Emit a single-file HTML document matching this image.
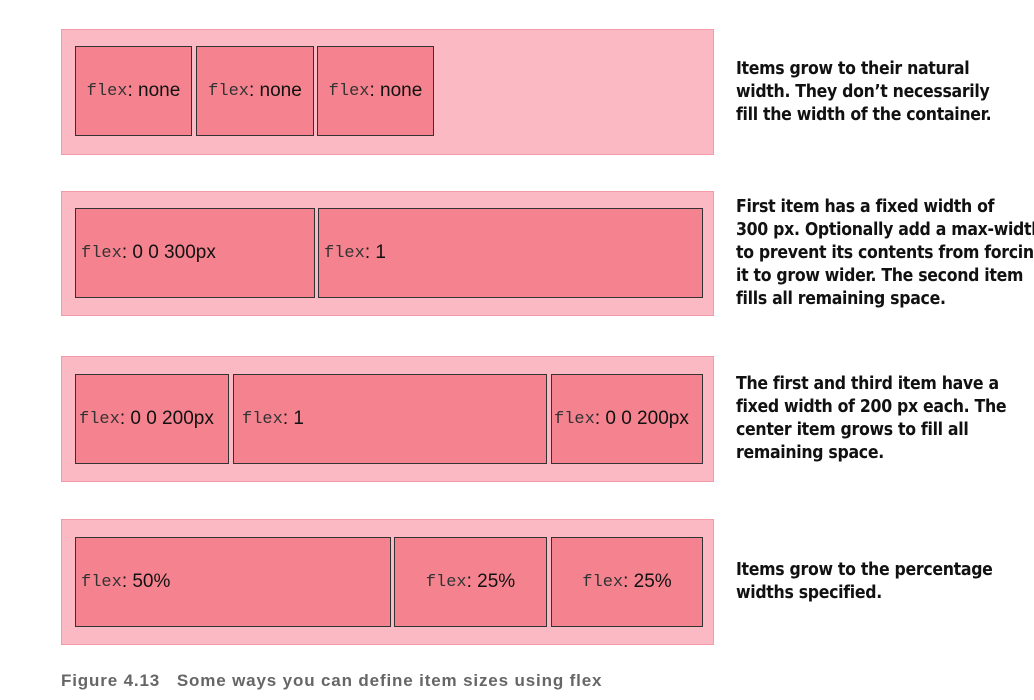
<!DOCTYPE html>
<html><head><style>
body{margin:0;width:1034px;height:700px;background:#fff;position:relative;overflow:hidden;font-family:"Liberation Sans",sans-serif}
.c{position:absolute;left:61px;width:653px;height:124px;background:#fbb9c3;border:1px solid #f29aa8;box-sizing:border-box}
.i{position:absolute;height:90px;background:#f5838f;border:1px solid #333;box-sizing:border-box;display:flex;align-items:center;white-space:nowrap;font-size:19px;color:#111;padding-left:5px}
.i.ctr{justify-content:center;padding-left:0}
.m{font-family:"Liberation Mono",monospace;font-size:17px;color:#333}
.t{position:absolute;left:736px;font-weight:bold;font-size:17.5px;line-height:23px;color:#111;white-space:nowrap;font-family:"DejaVu Sans Condensed","Liberation Sans Narrow","Liberation Sans",sans-serif;letter-spacing:-0.3px}
.cap{position:absolute;left:61px;top:671px;font-weight:bold;font-size:17px;color:#666;letter-spacing:0.85px}
</style></head><body>
<div class="c" style="top:29px;height:126px"></div>
<div class="i ctr" style="left:75px;top:46px;width:117px"><span class="m">flex</span>: none</div>
<div class="i ctr" style="left:196px;top:46px;width:118px"><span class="m">flex</span>: none</div>
<div class="i ctr" style="left:317px;top:46px;width:117px"><span class="m">flex</span>: none</div>
<div class="t" style="top:58px">Items grow to their natural<br>width. They don’t necessarily<br>fill the width of the container.</div>

<div class="c" style="top:191px;height:125px"></div>
<div class="i" style="left:75px;top:208px;width:240px"><span class="m">flex</span>: 0 0 300px</div>
<div class="i" style="left:318px;top:208px;width:385px"><span class="m">flex</span>: 1</div>
<div class="t" style="top:196px">First item has a fixed width of<br>300 px. Optionally add a max-width<br>to prevent its contents from forcing<br>it to grow wider. The second item<br>fills all remaining space.</div>

<div class="c" style="top:356px;height:126px"></div>
<div class="i" style="left:75px;top:374px;width:154px;padding-left:3px"><span class="m">flex</span>: 0 0 200px</div>
<div class="i" style="left:233px;top:374px;width:314px;padding-left:8px"><span class="m">flex</span>: 1</div>
<div class="i" style="left:551px;top:374px;width:152px;padding-left:2px"><span class="m">flex</span>: 0 0 200px</div>
<div class="t" style="top:373px">The first and third item have a<br>fixed width of 200 px each. The<br>center item grows to fill all<br>remaining space.</div>

<div class="c" style="top:519px;height:126px"></div>
<div class="i" style="left:75px;top:537px;width:316px"><span class="m">flex</span>: 50%</div>
<div class="i ctr" style="left:394px;top:537px;width:153px"><span class="m">flex</span>: 25%</div>
<div class="i ctr" style="left:551px;top:537px;width:152px"><span class="m">flex</span>: 25%</div>
<div class="t" style="top:559px">Items grow to the percentage<br>widths specified.</div>

<div class="cap">Figure 4.13&nbsp;&nbsp;&nbsp;Some ways you can define item sizes using flex</div>
</body></html>
